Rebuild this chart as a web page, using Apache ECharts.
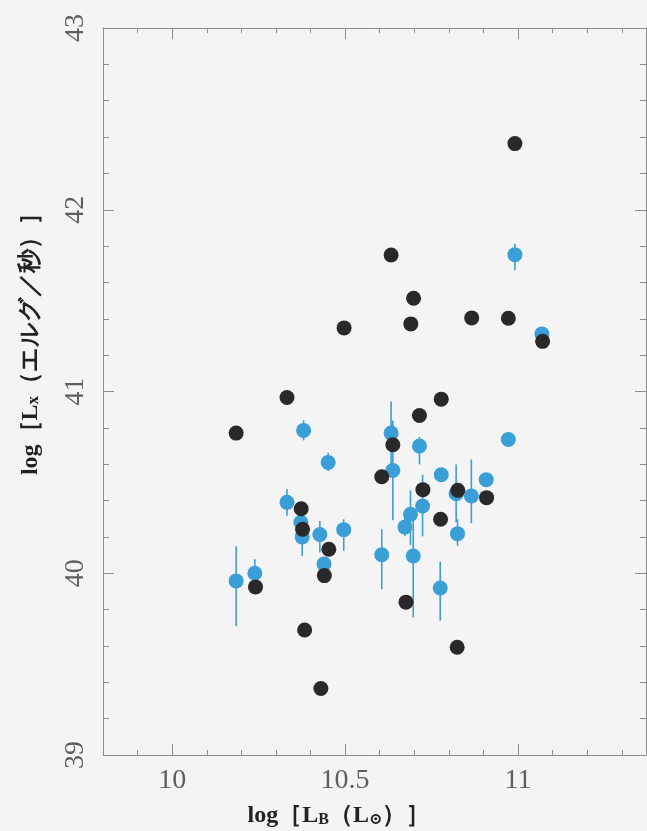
<!DOCTYPE html>
<html><head><meta charset="utf-8">
<script src="https://cdn.jsdelivr.net/npm/echarts@6/dist/echarts.min.js"></script>
<style>html,body{margin:0;padding:0;background:#f5f4f4}#c{width:647px;height:831px}</style>
</head><body><div id="c"></div>
<script>
// Tick labels
const xMajorTicks = [10, 10.5, 11];
const yMajorTicks = [39, 40, 41, 42, 43];

// Black points (no error bars)
const blackX = [10.185,10.332,10.373,10.377,10.453,10.44,10.241,10.383,10.43,10.606,10.778,10.715,10.638,10.725,10.826,10.909,10.776,10.676,10.824,10.991,10.633,10.698,10.69,10.866,10.972,11.071,10.497];
const blackY = [40.771,40.967,40.355,40.242,40.132,39.987,39.925,39.688,39.366,40.531,40.958,40.868,40.707,40.46,40.456,40.416,40.297,39.841,39.593,42.364,41.751,41.513,41.372,41.405,41.403,41.276,41.35];

// Blue points with vertical error bars
const blueX  = [10.38,10.451,10.332,10.372,10.376,10.427,10.496,10.439,10.239,10.185,10.606,10.633,10.638,10.715,10.778,10.908,10.821,10.865,10.724,10.689,10.673,10.825,10.697,10.775,10.972,10.991,11.069];
const blueY  = [40.786,40.61,40.39,40.28,40.2,40.213,40.24,40.051,40.0,39.958,40.102,40.771,40.566,40.7,40.542,40.515,40.438,40.425,40.37,40.324,40.254,40.218,40.095,39.919,40.736,41.753,41.317];
const blueHi = [40.841,40.663,40.462,40.31,40.297,40.288,40.297,40.051,40.077,40.148,40.242,40.945,40.841,40.749,40.542,40.515,40.599,40.625,40.542,40.456,40.319,40.297,40.288,40.063,40.736,41.813,41.317];
const blueLo = [40.731,40.562,40.316,40.25,40.096,40.114,40.123,40.051,39.967,39.709,39.912,40.599,40.291,40.599,40.542,40.515,40.28,40.275,40.203,40.154,40.203,40.151,39.757,39.739,40.736,41.667,41.317];

const BLUE = '#3a9fd6';
const BLACK = '#2a2828';
const AXIS = '#8c8c8c';
const SERIF = '"Liberation Serif","DejaVu Serif",serif';
const XMIN = 9.8, XMAX = 11.37;

const chart = echarts.init(document.getElementById('c'));

function xAx(pos, major, labels) {
  return {
    type: 'value', position: pos, min: XMIN, max: XMAX, interval: 0.1,
    gridIndex: 0,
    axisLine: { show: !major, onZero: false, lineStyle: { color: AXIS, width: 1 } },
    axisTick: major
      ? { show: true, inside: true, length: 11, customValues: xMajorTicks, lineStyle: { color: AXIS } }
      : { show: true, inside: true, length: 5, lineStyle: { color: AXIS } },
    axisLabel: labels
      ? { show: true, customValues: xMajorTicks, margin: 12, fontSize: 28, color: '#5e5e5e', fontFamily: SERIF,
          formatter: v => String(v) }
      : { show: false },
    splitLine: { show: false }
  };
}
function yAx(pos, labels) {
  return {
    type: 'value', position: pos, min: 39, max: 43, interval: 1,
    axisLine: { show: true, onZero: false, lineStyle: { color: AXIS, width: 1 } },
    axisTick: { show: true, inside: true, length: 11, lineStyle: { color: AXIS } },
    minorTick: { show: true, splitNumber: 5, length: 6, lineStyle: { color: AXIS } },
    axisLabel: labels
      ? { show: true, rotate: 90, margin: 13, fontSize: 28, color: '#5e5e5e', fontFamily: SERIF }
      : { show: false },
    splitLine: { show: false },
    minorSplitLine: { show: false }
  };
}

const option = {
  backgroundColor: '#f5f4f4',
  animation: false,
  grid: { left: 103, right: 1, top: 28, bottom: 76, show: false },
  xAxis: [xAx('bottom', false, true), xAx('bottom', true, false), xAx('top', false, false), xAx('top', true, false)],
  yAxis: [yAx('left', true), yAx('right', false)],
  graphic: [
    { type: 'text', x: 339, y: 816,
      style: { x: 0, y: 0, text: 'log［L{s|B}（L{s|⊙}）］', align: 'center', verticalAlign: 'middle',
        font: 'bold 24px ' + SERIF, fill: '#222',
        rich: { s: { font: 'bold 16px ' + SERIF, fill: '#222', verticalAlign: 'bottom', padding: [7, 0, 0, 0] } } } },
    { type: 'text', x: 31, y: 338, rotation: Math.PI / 2,
      style: { x: 0, y: 0, text: 'log［L{s|x}（エルグ／秒）］', align: 'center', verticalAlign: 'middle',
        font: 'bold 24px ' + SERIF, fill: '#222',
        rich: { s: { font: 'bold 17px ' + SERIF, fill: '#222', padding: [5, 0, 0, 0] } } } }
  ],
  series: [
    {
      type: 'custom', name: 'err', xAxisIndex: 0, yAxisIndex: 0, z: 2,
      data: blueX.map((x, i) => [x, blueLo[i], blueHi[i]]),
      encode: { x: 0, y: [1, 2] },
      renderItem: function (params, api) {
        const a = api.coord([api.value(0), api.value(1)]);
        const b = api.coord([api.value(0), api.value(2)]);
        return { type: 'line', shape: { x1: a[0], y1: a[1], x2: b[0], y2: b[1] },
          style: { stroke: BLUE, lineWidth: 1.6 } };
      },
      silent: true
    },
    {
      type: 'scatter', name: 'blue', xAxisIndex: 0, yAxisIndex: 0, z: 3,
      symbolSize: 15, itemStyle: { color: BLUE, opacity: 1 },
      data: blueX.map((x, i) => [x, blueY[i]])
    },
    {
      type: 'scatter', name: 'black', xAxisIndex: 0, yAxisIndex: 0, z: 4,
      symbolSize: 15, itemStyle: { color: BLACK, opacity: 1 },
      data: blackX.map((x, i) => [x, blackY[i]])
    }
  ]
};
chart.setOption(option);
</script>
</body></html>
